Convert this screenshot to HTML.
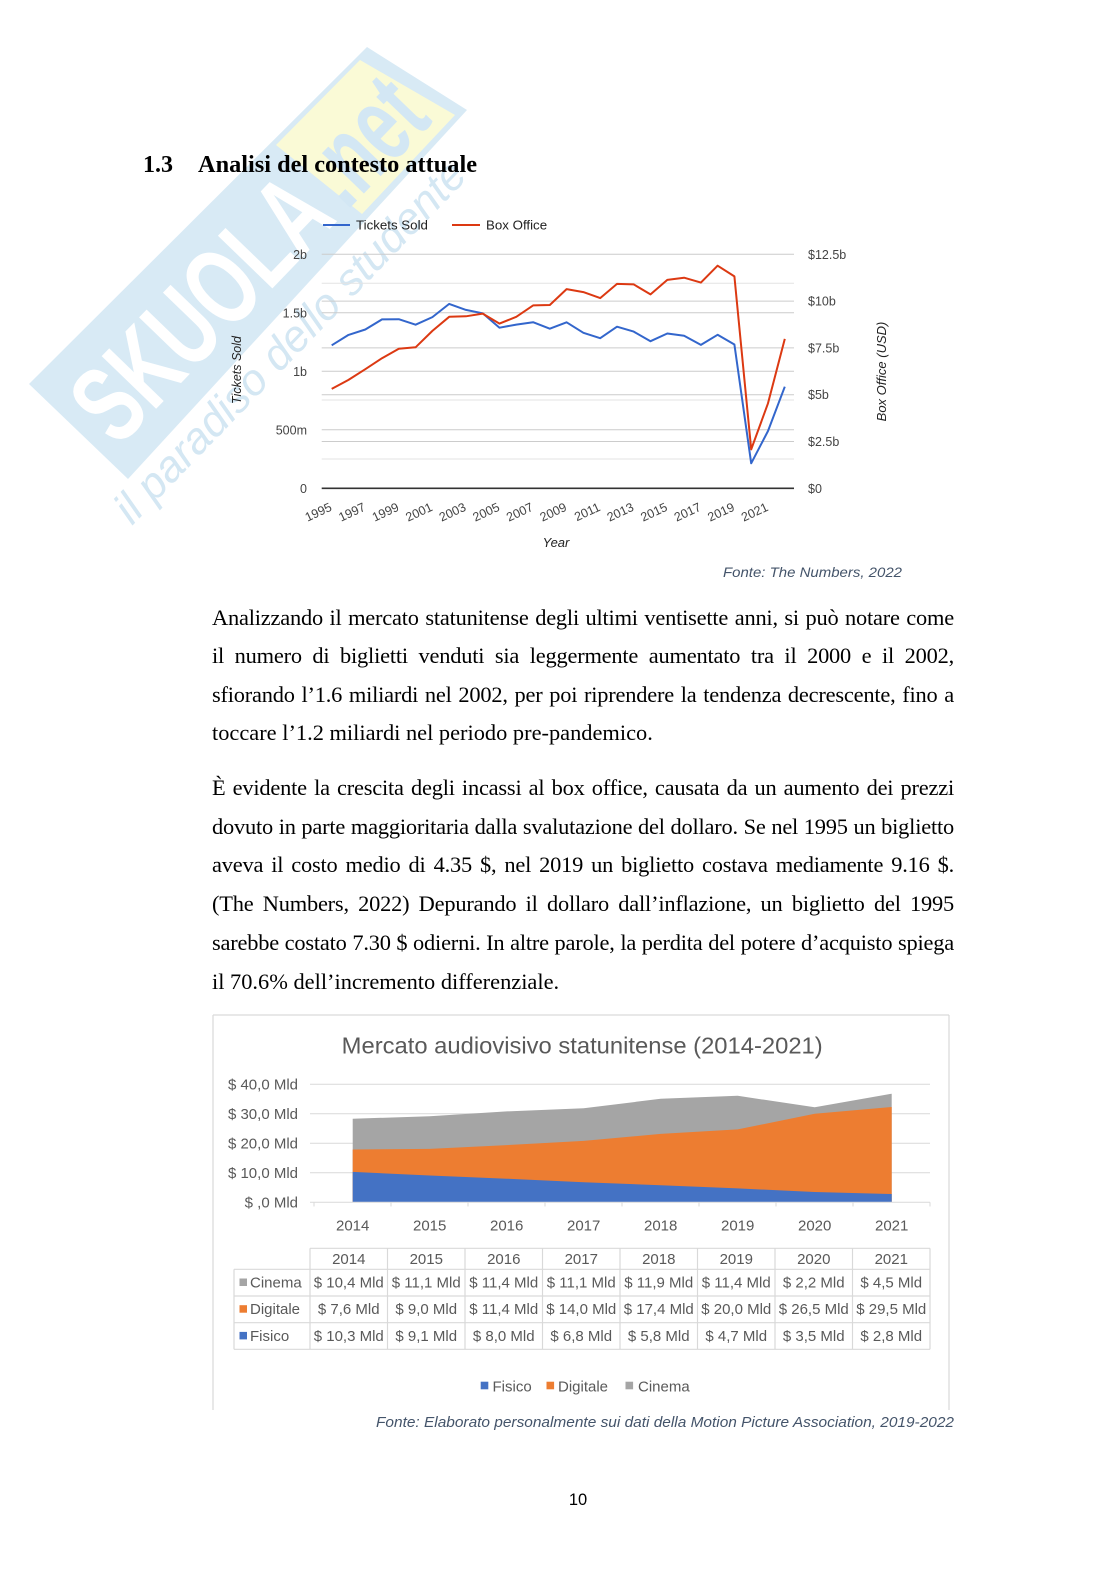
<!DOCTYPE html>
<html>
<head>
<meta charset="utf-8">
<style>
  html,body{margin:0;padding:0;background:#fff;}
  body{width:1116px;height:1579px;position:relative;overflow:hidden;}
  svg{position:absolute;left:0;top:0;}
  .l{position:absolute;left:212px;width:742px;height:25px;overflow:hidden;font-family:"Liberation Serif",serif;font-size:22.4px;line-height:25px;color:#000;}
  .j{text-align:justify;text-align-last:justify;letter-spacing:-0.2px;}
</style>
</head>
<body>
<svg width="1116" height="1579" viewBox="0 0 1116 1579" xmlns="http://www.w3.org/2000/svg">
  <!-- Watermark -->
  <g>
    <polygon points="29,384 367,47 467,110 128,479" fill="#d8eaf5"/>
    <polygon points="276,145 360,60 455,115 362,214" fill="#fafad6"/>
    <g transform="translate(78.5,431.5) rotate(-46)">
      <text x="15" y="40" font-family="'Liberation Sans',sans-serif" font-weight="bold" font-size="110" fill="#ffffff" textLength="318" lengthAdjust="spacingAndGlyphs">SKUOLA</text>
      <text x="345" y="40" font-family="'Liberation Sans',sans-serif" font-weight="bold" font-size="110" fill="#d3e7f4" textLength="125" lengthAdjust="spacingAndGlyphs">.net</text>
    </g>
    <g transform="translate(132,526) rotate(-46)">
      <text x="0" y="0" font-family="'Liberation Sans',sans-serif" font-style="italic" font-size="44" fill="#d4e7f3" textLength="485" lengthAdjust="spacingAndGlyphs">il paradiso dello studente</text>
    </g>
  </g>

  <!-- Heading -->
  <text x="143" y="172" font-family="'Liberation Serif',serif" font-weight="bold" font-size="24" fill="#000">1.3</text>
  <text x="198" y="172" font-family="'Liberation Serif',serif" font-weight="bold" font-size="24" fill="#000" textLength="279" lengthAdjust="spacingAndGlyphs">Analisi del contesto attuale</text>

  <!-- Chart 1 -->
  <g font-family="'Liberation Sans',sans-serif">
    <line x1="323" y1="225" x2="350" y2="225" stroke="#3366cc" stroke-width="2"/>
    <text x="356" y="229.7" font-size="13.3" fill="#222">Tickets Sold</text>
    <line x1="452" y1="225" x2="480" y2="225" stroke="#dc3912" stroke-width="2"/>
    <text x="486" y="229.7" font-size="13.3" fill="#222">Box Office</text>

    <g stroke="#cccccc" stroke-width="1">
      <line x1="321.7" y1="254.3" x2="794" y2="254.3"/>
      <line x1="321.7" y1="283.3" x2="794" y2="283.3" stroke="#e3e3e3"/>
      <line x1="321.7" y1="301.1" x2="794" y2="301.1"/>
      <line x1="321.7" y1="312.8" x2="794" y2="312.8"/>
      <line x1="321.7" y1="347.9" x2="794" y2="347.9"/>
      <line x1="321.7" y1="371.3" x2="794" y2="371.3"/>
      <line x1="321.7" y1="394.7" x2="794" y2="394.7"/>
      <line x1="321.7" y1="400.0" x2="794" y2="400.0" stroke="#e3e3e3"/>
      <line x1="321.7" y1="429.8" x2="794" y2="429.8"/>
      <line x1="321.7" y1="441.5" x2="794" y2="441.5"/>
      <line x1="321.7" y1="459.0" x2="794" y2="459.0" stroke="#e3e3e3"/>
    </g>
    <line x1="321.7" y1="488.3" x2="794" y2="488.3" stroke="#333" stroke-width="1.6"/>

    <g font-size="12.5" fill="#444" text-anchor="end">
      <text x="307" y="258.8">2b</text>
      <text x="307" y="317.3">1.5b</text>
      <text x="307" y="375.8">1b</text>
      <text x="307" y="434.3">500m</text>
      <text x="307" y="492.8">0</text>
    </g>
    <g font-size="12.5" fill="#444">
      <text x="808" y="258.8">$12.5b</text>
      <text x="808" y="305.6">$10b</text>
      <text x="808" y="352.4">$7.5b</text>
      <text x="808" y="399.2">$5b</text>
      <text x="808" y="446">$2.5b</text>
      <text x="808" y="492.8">$0</text>
    </g>

    <polyline fill="none" stroke="#3366cc" stroke-width="2" stroke-linejoin="round" points="331.7,345.3 348.5,334.9 365.3,329.5 382.0,319.4 398.8,319.2 415.6,324.7 432.4,317.1 449.2,303.9 465.9,309.9 482.7,313.3 499.5,327.7 516.3,324.6 533.1,322.2 549.8,328.7 566.6,322.3 583.4,332.8 600.2,338.2 617.0,326.7 633.7,331.6 650.5,341.2 667.3,333.5 684.1,335.8 700.9,344.9 717.6,334.8 734.4,344.5 751.2,463.3 768.0,431.0 784.8,386.7"/>
    <polyline fill="none" stroke="#dc3912" stroke-width="2" stroke-linejoin="round" points="331.7,388.9 348.5,379.9 365.3,369.2 382.0,358.2 398.8,348.8 415.6,347.3 432.4,330.9 449.2,316.8 465.9,316.3 482.7,313.6 499.5,323.6 516.3,316.8 533.1,305.4 549.8,305.0 566.6,289.1 583.4,292.1 600.2,298.1 617.0,283.9 633.7,284.4 650.5,294.4 667.3,279.9 684.1,277.7 700.9,282.6 717.6,265.7 734.4,276.4 751.2,449.4 768.0,403.3 784.8,338.9"/>

    <g font-size="12.5" fill="#444" text-anchor="end">
      <text x="332.7" y="510" transform="rotate(-25 332.7 510)">1995</text>
      <text x="366.3" y="510" transform="rotate(-25 366.3 510)">1997</text>
      <text x="399.8" y="510" transform="rotate(-25 399.8 510)">1999</text>
      <text x="433.4" y="510" transform="rotate(-25 433.4 510)">2001</text>
      <text x="466.9" y="510" transform="rotate(-25 466.9 510)">2003</text>
      <text x="500.5" y="510" transform="rotate(-25 500.5 510)">2005</text>
      <text x="534.1" y="510" transform="rotate(-25 534.1 510)">2007</text>
      <text x="567.6" y="510" transform="rotate(-25 567.6 510)">2009</text>
      <text x="601.2" y="510" transform="rotate(-25 601.2 510)">2011</text>
      <text x="634.7" y="510" transform="rotate(-25 634.7 510)">2013</text>
      <text x="668.3" y="510" transform="rotate(-25 668.3 510)">2015</text>
      <text x="701.9" y="510" transform="rotate(-25 701.9 510)">2017</text>
      <text x="735.4" y="510" transform="rotate(-25 735.4 510)">2019</text>
      <text x="769.0" y="510" transform="rotate(-25 769.0 510)">2021</text>
    </g>
    <text x="556" y="547" font-size="13" font-style="italic" fill="#222" text-anchor="middle">Year</text>
    <text x="241" y="370" font-size="12.5" font-style="italic" fill="#222" text-anchor="middle" transform="rotate(-90 241 370)">Tickets Sold</text>
    <text x="886" y="371.5" font-size="13" font-style="italic" fill="#222" text-anchor="middle" transform="rotate(-90 886 371.5)">Box Office (USD)</text>
  </g>

  <text x="723" y="577" font-family="'Liberation Sans',sans-serif" font-style="italic" font-size="14" fill="#44546a" textLength="179" lengthAdjust="spacingAndGlyphs">Fonte: The Numbers, 2022</text>

  <!-- Chart 2 -->
  <g font-family="'Liberation Sans',sans-serif">
    <g stroke="#d9d9d9" stroke-width="1.2" fill="none">
      <line x1="213" y1="1015" x2="949" y2="1015"/>
      <line x1="213" y1="1015" x2="213" y2="1410"/>
      <line x1="949" y1="1015" x2="949" y2="1410"/>
    </g>
    <text x="341.7" y="1053.3" font-size="23" fill="#595959" textLength="481" lengthAdjust="spacingAndGlyphs">Mercato audiovisivo statunitense (2014-2021)</text>

    <g stroke="#d9d9d9" stroke-width="1">
      <line x1="310" y1="1084.3" x2="930" y2="1084.3"/>
      <line x1="310" y1="1113.8" x2="930" y2="1113.8"/>
      <line x1="310" y1="1143.3" x2="930" y2="1143.3"/>
      <line x1="310" y1="1172.8" x2="930" y2="1172.8"/>
    </g>

    <polygon fill="#a5a5a5" points="352.7,1118.8 429.7,1116.2 506.7,1111.4 583.7,1108.2 660.7,1098.8 737.7,1095.8 814.7,1107.3 891.7,1093.7 891.7,1202.3 352.7,1202.3"/>
    <polygon fill="#ed7d31" points="352.7,1149.5 429.7,1148.9 506.7,1145.1 583.7,1140.9 660.7,1133.9 737.7,1129.4 814.7,1113.8 891.7,1107.0 891.7,1202.3 352.7,1202.3"/>
    <polygon fill="#4472c4" points="352.7,1171.9 429.7,1175.5 506.7,1178.7 583.7,1182.2 660.7,1185.2 737.7,1188.4 814.7,1192.0 891.7,1194.0 891.7,1202.3 352.7,1202.3"/>

    <g stroke="#d9d9d9" stroke-width="1">
      <line x1="310" y1="1202.3" x2="930" y2="1202.3"/>
      <line x1="314" y1="1202.3" x2="314" y2="1206.5"/>
      <line x1="391" y1="1202.3" x2="391" y2="1206.5"/>
      <line x1="468" y1="1202.3" x2="468" y2="1206.5"/>
      <line x1="545" y1="1202.3" x2="545" y2="1206.5"/>
      <line x1="622" y1="1202.3" x2="622" y2="1206.5"/>
      <line x1="699" y1="1202.3" x2="699" y2="1206.5"/>
      <line x1="776" y1="1202.3" x2="776" y2="1206.5"/>
      <line x1="853" y1="1202.3" x2="853" y2="1206.5"/>
      <line x1="930" y1="1202.3" x2="930" y2="1206.5"/>
    </g>

    <g font-size="15" fill="#595959" text-anchor="end">
      <text x="298" y="1089.3">$ 40,0 Mld</text>
      <text x="298" y="1118.8">$ 30,0 Mld</text>
      <text x="298" y="1148.3">$ 20,0 Mld</text>
      <text x="298" y="1177.8">$ 10,0 Mld</text>
      <text x="298" y="1207.3">$ ,0 Mld</text>
    </g>

    <g font-size="15" fill="#595959" text-anchor="middle">
      <text x="352.7" y="1230.7">2014</text>
      <text x="429.7" y="1230.7">2015</text>
      <text x="506.7" y="1230.7">2016</text>
      <text x="583.7" y="1230.7">2017</text>
      <text x="660.7" y="1230.7">2018</text>
      <text x="737.7" y="1230.7">2019</text>
      <text x="814.7" y="1230.7">2020</text>
      <text x="891.7" y="1230.7">2021</text>
    </g>

    <g stroke="#d9d9d9" stroke-width="1.2">
      <line x1="310" y1="1248.3" x2="930" y2="1248.3"/>
      <line x1="234" y1="1269.3" x2="930" y2="1269.3"/>
      <line x1="234" y1="1296" x2="930" y2="1296"/>
      <line x1="234" y1="1322.7" x2="930" y2="1322.7"/>
      <line x1="234" y1="1349.3" x2="930" y2="1349.3"/>
      <line x1="234" y1="1269.3" x2="234" y2="1349.3"/>
      <line x1="310" y1="1248.3" x2="310" y2="1349.3"/>
      <line x1="387.5" y1="1248.3" x2="387.5" y2="1349.3"/>
      <line x1="465" y1="1248.3" x2="465" y2="1349.3"/>
      <line x1="542.5" y1="1248.3" x2="542.5" y2="1349.3"/>
      <line x1="620" y1="1248.3" x2="620" y2="1349.3"/>
      <line x1="697.5" y1="1248.3" x2="697.5" y2="1349.3"/>
      <line x1="775" y1="1248.3" x2="775" y2="1349.3"/>
      <line x1="852.5" y1="1248.3" x2="852.5" y2="1349.3"/>
      <line x1="930" y1="1248.3" x2="930" y2="1349.3"/>
    </g>
    <g font-size="15" fill="#595959" text-anchor="middle">
      <text x="348.75" y="1263.8">2014</text>
      <text x="426.25" y="1263.8">2015</text>
      <text x="503.75" y="1263.8">2016</text>
      <text x="581.25" y="1263.8">2017</text>
      <text x="658.75" y="1263.8">2018</text>
      <text x="736.25" y="1263.8">2019</text>
      <text x="813.75" y="1263.8">2020</text>
      <text x="891.25" y="1263.8">2021</text>

      <text x="348.75" y="1287.5">$ 10,4 Mld</text>
      <text x="426.25" y="1287.5">$ 11,1 Mld</text>
      <text x="503.75" y="1287.5">$ 11,4 Mld</text>
      <text x="581.25" y="1287.5">$ 11,1 Mld</text>
      <text x="658.75" y="1287.5">$ 11,9 Mld</text>
      <text x="736.25" y="1287.5">$ 11,4 Mld</text>
      <text x="813.75" y="1287.5">$ 2,2 Mld</text>
      <text x="891.25" y="1287.5">$ 4,5 Mld</text>

      <text x="348.75" y="1314.2">$ 7,6 Mld</text>
      <text x="426.25" y="1314.2">$ 9,0 Mld</text>
      <text x="503.75" y="1314.2">$ 11,4 Mld</text>
      <text x="581.25" y="1314.2">$ 14,0 Mld</text>
      <text x="658.75" y="1314.2">$ 17,4 Mld</text>
      <text x="736.25" y="1314.2">$ 20,0 Mld</text>
      <text x="813.75" y="1314.2">$ 26,5 Mld</text>
      <text x="891.25" y="1314.2">$ 29,5 Mld</text>

      <text x="348.75" y="1340.9">$ 10,3 Mld</text>
      <text x="426.25" y="1340.9">$ 9,1 Mld</text>
      <text x="503.75" y="1340.9">$ 8,0 Mld</text>
      <text x="581.25" y="1340.9">$ 6,8 Mld</text>
      <text x="658.75" y="1340.9">$ 5,8 Mld</text>
      <text x="736.25" y="1340.9">$ 4,7 Mld</text>
      <text x="813.75" y="1340.9">$ 3,5 Mld</text>
      <text x="891.25" y="1340.9">$ 2,8 Mld</text>
    </g>
    <rect x="239.5" y="1278.5" width="7.5" height="7.5" fill="#a5a5a5"/>
    <text x="250" y="1287.5" font-size="15" fill="#595959">Cinema</text>
    <rect x="239.5" y="1305.2" width="7.5" height="7.5" fill="#ed7d31"/>
    <text x="250" y="1314.2" font-size="15" fill="#595959">Digitale</text>
    <rect x="239.5" y="1331.9" width="7.5" height="7.5" fill="#4472c4"/>
    <text x="250" y="1340.9" font-size="15" fill="#595959">Fisico</text>

    <rect x="480.7" y="1381.7" width="7.6" height="7.6" fill="#4472c4"/>
    <text x="492.5" y="1391.5" font-size="15" fill="#595959">Fisico</text>
    <rect x="546.5" y="1381.7" width="7.6" height="7.6" fill="#ed7d31"/>
    <text x="558" y="1391.5" font-size="15" fill="#595959">Digitale</text>
    <rect x="625.5" y="1381.7" width="7.6" height="7.6" fill="#a5a5a5"/>
    <text x="638" y="1391.5" font-size="15" fill="#595959">Cinema</text>
  </g>

  <text x="376" y="1427" font-family="'Liberation Sans',sans-serif" font-style="italic" font-size="14.5" fill="#44546a" textLength="578" lengthAdjust="spacingAndGlyphs">Fonte: Elaborato personalmente sui dati della Motion Picture Association, 2019-2022</text>

  <text x="578" y="1505" font-family="'Liberation Sans',sans-serif" font-size="16.5" fill="#000" text-anchor="middle">10</text>
</svg>

<div class="l j" style="top:605px">Analizzando il mercato statunitense degli ultimi ventisette anni, si può notare come</div>
<div class="l j" style="top:643.3px">il numero di biglietti venduti sia leggermente aumentato tra il 2000 e il 2002,</div>
<div class="l j" style="top:681.7px">sfiorando l’1.6 miliardi nel 2002, per poi riprendere la tendenza decrescente, fino a</div>
<div class="l" style="top:720px">toccare l’1.2 miliardi nel periodo pre-pandemico.</div>

<div class="l j" style="top:775px">È evidente la crescita degli incassi al box office, causata da un aumento dei prezzi</div>
<div class="l j" style="top:813.7px">dovuto in parte maggioritaria dalla svalutazione del dollaro. Se nel 1995 un biglietto</div>
<div class="l j" style="top:852.4px">aveva il costo medio di 4.35 $, nel 2019 un biglietto costava mediamente 9.16 $.</div>
<div class="l j" style="top:891.3px">(The Numbers, 2022) Depurando il dollaro dall’inflazione, un biglietto del 1995</div>
<div class="l j" style="top:930px">sarebbe costato 7.30 $ odierni. In altre parole, la perdita del potere d’acquisto spiega</div>
<div class="l" style="top:969px">il 70.6% dell’incremento differenziale.</div>
</body>
</html>
